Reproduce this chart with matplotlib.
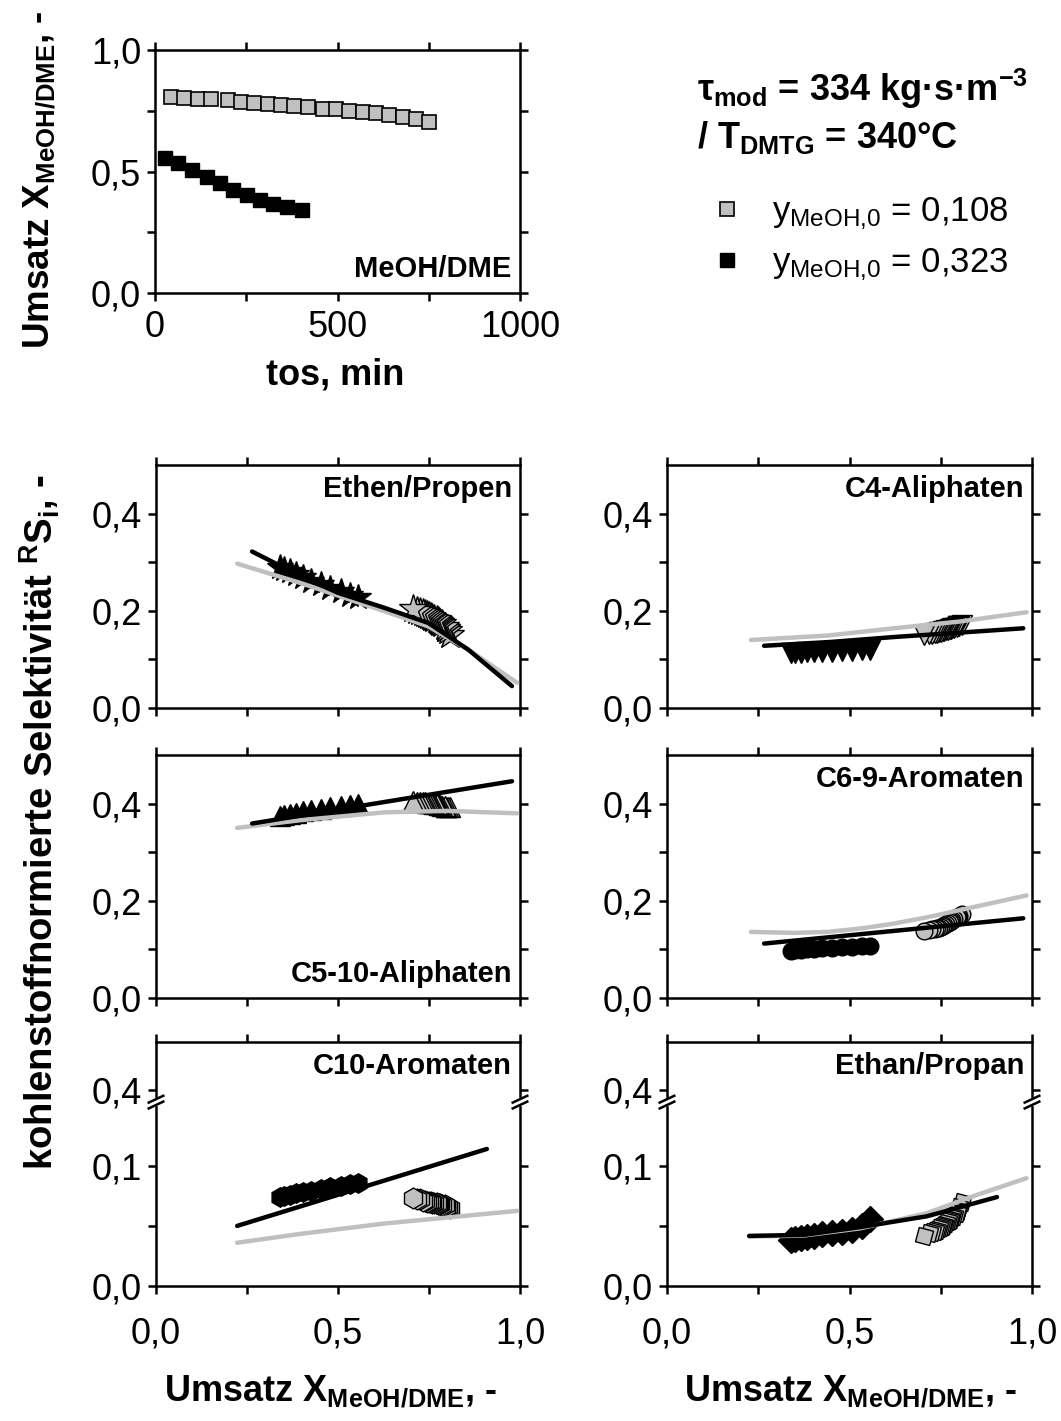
import numpy as np
import matplotlib
matplotlib.use('Agg')
import matplotlib.pyplot as plt
from matplotlib.ticker import FixedLocator, FuncFormatter

plt.rcParams['font.family'] = ['Liberation Sans', 'DejaVu Sans']
plt.rcParams['mathtext.fontset'] = 'custom'
plt.rcParams['mathtext.rm'] = 'Liberation Sans'
plt.rcParams['mathtext.bf'] = 'Liberation Sans:bold'
plt.rcParams['mathtext.it'] = 'Liberation Sans:italic'
plt.rcParams['mathtext.default'] = 'regular'

# time on stream and conversion (top panel)
tos_gray = [44, 80, 117, 153, 199, 236, 272, 309, 345, 382, 418, 459, 496, 532, 569, 606, 642, 679, 715, 752]
conv_gray = [0.808, 0.801, 0.797, 0.797, 0.795, 0.785, 0.781, 0.778, 0.774, 0.771,
             0.764, 0.759, 0.756, 0.751, 0.745, 0.740, 0.733, 0.726, 0.718, 0.705]
tos_black = [27, 64, 100, 142, 178, 215, 251, 288, 324, 361, 402]
conv_black = [0.555, 0.534, 0.507, 0.479, 0.452, 0.425, 0.404, 0.384, 0.367, 0.352, 0.340]

# selectivities (same time points as above)
sel_black = {
    'Ethen/Propen': [0.228, 0.232, 0.240, 0.247, 0.255, 0.262, 0.270, 0.276, 0.282, 0.287, 0.291],
    'C4-Aliphaten': [0.120, 0.119, 0.118, 0.117, 0.116, 0.116, 0.115, 0.115, 0.114, 0.114, 0.114],
    'C5-10-Aliphaten': [0.400, 0.398, 0.395, 0.392, 0.389, 0.386, 0.384, 0.381, 0.379, 0.377, 0.375],
    'C6-9-Aromaten': [0.107, 0.106, 0.105, 0.104, 0.103, 0.102, 0.101, 0.100, 0.099, 0.098, 0.097],
    'C10-Aromaten': [0.086, 0.085, 0.083, 0.082, 0.081, 0.079, 0.078, 0.077, 0.076, 0.075, 0.074],
    'Ethan/Propan': [0.056, 0.050, 0.047, 0.045, 0.044, 0.043, 0.042, 0.041, 0.040, 0.039, 0.038],
}
sel_gray = {
    'Ethen/Propen': [0.150, 0.158, 0.162, 0.163, 0.166, 0.172, 0.175, 0.177, 0.179, 0.181,
                     0.184, 0.186, 0.188, 0.190, 0.192, 0.194, 0.196, 0.198, 0.200, 0.203],
    'C4-Aliphaten': [0.171, 0.169, 0.168, 0.168, 0.167, 0.165, 0.164, 0.163, 0.162, 0.161,
                     0.160, 0.159, 0.158, 0.157, 0.156, 0.155, 0.154, 0.153, 0.152, 0.150],
    'C5-10-Aliphaten': [0.392, 0.393, 0.394, 0.394, 0.395, 0.396, 0.397, 0.398, 0.399, 0.399,
                        0.400, 0.401, 0.401, 0.402, 0.402, 0.403, 0.403, 0.404, 0.404, 0.405],
    'C6-9-Aromaten': [0.172, 0.169, 0.167, 0.167, 0.166, 0.162, 0.160, 0.158, 0.156, 0.155,
                      0.152, 0.150, 0.149, 0.147, 0.145, 0.144, 0.142, 0.141, 0.140, 0.138],
    'C10-Aromaten': [0.065, 0.066, 0.066, 0.066, 0.067, 0.067, 0.068, 0.068, 0.068, 0.069,
                     0.069, 0.069, 0.070, 0.070, 0.070, 0.071, 0.071, 0.072, 0.072, 0.073],
    'Ethan/Propan': [0.070, 0.066, 0.063, 0.062, 0.061, 0.058, 0.057, 0.056, 0.055, 0.054,
                     0.052, 0.051, 0.050, 0.049, 0.048, 0.047, 0.046, 0.045, 0.044, 0.042],
}

# model curves (black: y=0.323, gray: y=0.108)
fit_black = {
    'Ethen/Propen': ([0.264, 0.398, 0.50, 0.628, 0.748, 0.858, 0.978],
                     [0.322, 0.271, 0.237, 0.206, 0.175, 0.120, 0.045]),
    'C4-Aliphaten': ([0.266, 0.45, 0.621, 0.80, 0.976], [0.128, 0.136, 0.146, 0.155, 0.164]),
    'C5-10-Aliphaten': ([0.264, 0.978], [0.359, 0.446]),
    'C6-9-Aromaten': ([0.266, 0.621, 0.976], [0.112, 0.138, 0.164]),
    'C10-Aromaten': ([0.223, 0.909], [0.050, 0.114]),
    'Ethan/Propan': ([0.225, 0.375, 0.53, 0.712, 0.904], [0.0417, 0.0425, 0.049, 0.058, 0.074]),
}
fit_gray = {
    'Ethen/Propen': ([0.223, 0.398, 0.628, 0.748, 0.858, 0.992],
                     [0.297, 0.257, 0.199, 0.168, 0.120, 0.052]),
    'C4-Aliphaten': ([0.23, 0.439, 0.621, 0.803, 0.985], [0.140, 0.149, 0.164, 0.178, 0.197]),
    'C5-10-Aliphaten': ([0.223, 0.398, 0.628, 0.80, 0.992], [0.350, 0.366, 0.382, 0.385, 0.380]),
    'C6-9-Aromaten': ([0.23, 0.348, 0.439, 0.53, 0.621, 0.712, 0.803, 0.894, 0.985],
                      [0.136, 0.134, 0.136, 0.143, 0.153, 0.166, 0.181, 0.196, 0.211]),
    'C10-Aromaten': ([0.223, 0.40, 0.628, 0.992], [0.036, 0.0435, 0.052, 0.0625]),
    'Ethan/Propan': ([0.225, 0.375, 0.53, 0.712, 0.849, 0.985], [0.041, 0.042, 0.048, 0.0606, 0.0758, 0.0897]),
}

# marker black, marker gray, size black, size gray
markers = {
    'Ethen/Propen': ('*', '*', 19, 21),
    'C4-Aliphaten': ('v', 'v', 14, 15),
    'C5-10-Aliphaten': ('^', '^', 14, 15),
    'C6-9-Aromaten': ('o', 'o', 12, 12),
    'C10-Aromaten': ('h', 'h', 14, 15),
    'Ethan/Propan': ('D', (4, 0, 30), 13, 15),
}

GRAY = '#c0c0c0'
W, H = 1061, 1421
fig = plt.figure(figsize=(W / 100, H / 100), dpi=100)


def px_axes(l, t, r, b):
    return fig.add_axes([l / W, 1 - b / H, (r - l) / W, (b - t) / H])


def style(ax):
    for s in ax.spines.values():
        s.set_linewidth(1.8)
    ax.tick_params(which='both', direction='out', length=6, width=1.8,
                   top=True, right=True, labelsize=26, pad=4)


comma = FuncFormatter(lambda v, p: f"{v:.1f}".replace('.', ','))

# ---------- top panel: conversion vs tos ----------
ax0 = px_axes(155, 50, 520, 293)
style(ax0)
h1, = ax0.plot(tos_gray, conv_gray, 's', ms=10, mfc=GRAY, mec='k', mew=1.2, ls='none')
h2, = ax0.plot(tos_black, conv_black, 's', ms=10, mfc='k', mec='k', ls='none')
ax0.set_xlim(0, 1000)
ax0.set_ylim(0, 1.0)
ax0.xaxis.set_major_locator(FixedLocator([0, 500, 1000]))
ax0.xaxis.set_minor_locator(FixedLocator([250, 750]))
ax0.yaxis.set_major_locator(FixedLocator([0, 0.5, 1.0]))
ax0.yaxis.set_minor_locator(FixedLocator([0.25, 0.75]))
ax0.yaxis.set_major_formatter(comma)
ax0.tick_params(axis='x', pad=6)
ax0.text(0.975, 0.04, 'MeOH/DME', transform=ax0.transAxes, ha='right', va='bottom',
         fontsize=21, fontweight='bold')
fig.text(335 / W, 1 - 375 / H, 'tos, min', ha='center', va='center', fontsize=26, fontweight='bold')
fig.text(40 / W, 1 - 180 / H, r'Umsatz X$_{\mathbf{MeOH/DME}}$, -', rotation=90,
         ha='center', va='center', fontsize=26.5, fontweight='bold')

fig.text(697 / W, 1 - 101 / H, r'τ$_{\mathbf{mod}}$ = 334 kg·s·m$^{\mathbf{-3}}$',
         ha='left', va='baseline', fontsize=26, fontweight='bold')
fig.text(697 / W, 1 - 148 / H, r'/ T$_{\mathbf{DMTG}}$ = 340°C',
         ha='left', va='baseline', fontsize=26, fontweight='bold')

leg = ax0.legend([h1, h2], [r'y$_{MeOH{,}0}$ = 0,108', r'y$_{MeOH{,}0}$ = 0,323'],
                 loc='upper left', bbox_to_anchor=(710 / W, 1 - 195 / H),
                 bbox_transform=fig.transFigure, frameon=False, numpoints=1,
                 fontsize=25, handlelength=1.0, handletextpad=0.8, labelspacing=0.42,
                 borderaxespad=0, borderpad=0)

# ---------- selectivity panels ----------
cols = [(156, 520), (667, 1032)]
rows = [(465, 708), (755, 998), (1042, 1286)]
order = [['Ethen/Propen', 'C4-Aliphaten'],
         ['C5-10-Aliphaten', 'C6-9-Aromaten'],
         ['C10-Aromaten', 'Ethan/Propan']]

b0, b1 = 0.153, 0.39


def fwd(y):
    y = np.asarray(y, dtype=float)
    return np.where(y <= b0, y, np.where(y >= b1, y - (b1 - b0), b0))


def inv(t):
    t = np.asarray(t, dtype=float)
    return np.where(t <= b0, t, t + (b1 - b0))


for r, (top, bot) in enumerate(rows):
    for c, (left, right) in enumerate(cols):
        name = order[r][c]
        ax = px_axes(left, top, right, bot)
        style(ax)
        mk_b, mk_g, ms_b, ms_g = markers[name]
        ax.plot(conv_black, sel_black[name], ls='none', marker=mk_b, ms=ms_b,
                mfc='k', mec='k', mew=1.0, zorder=2)
        ax.plot(conv_gray, sel_gray[name], ls='none', marker=mk_g, ms=ms_g,
                mfc=GRAY, mec='k', mew=1.0, zorder=2)
        gx, gy = fit_gray[name]
        ax.plot(gx, gy, color=GRAY, lw=3.2, solid_capstyle='round', zorder=3)
        bx, by = fit_black[name]
        ax.plot(bx, by, color='k', lw=3.2, solid_capstyle='round', zorder=4)

        ax.set_xlim(0, 1.0)
        ax.xaxis.set_major_locator(FixedLocator([0, 0.5, 1.0]))
        ax.xaxis.set_minor_locator(FixedLocator([0.25, 0.75]))
        ax.xaxis.set_major_formatter(comma)
        if r < 2:
            ax.set_ylim(0, 0.5)
            ax.yaxis.set_major_locator(FixedLocator([0, 0.2, 0.4]))
            ax.yaxis.set_minor_locator(FixedLocator([0.1, 0.3]))
            ax.tick_params(axis='x', labelbottom=False)
        else:
            ax.tick_params(axis='x', pad=16)
            ax.set_yscale('function', functions=(fwd, inv))
            ax.set_ylim(0, 0.44)
            ax.yaxis.set_major_locator(FixedLocator([0, 0.1, 0.4]))
            ax.yaxis.set_minor_locator(FixedLocator([0.05]))
            yb = b0 / (b0 + 0.44 - b1)
            for xs in (0, 1):
                ax.plot([xs - 0.012, xs + 0.012], [yb, yb], transform=ax.transAxes,
                        color='white', lw=6, clip_on=False, zorder=5)
                for dy in (-0.012, 0.012):
                    ax.plot([xs - 0.02, xs + 0.02], [yb + dy - 0.014, yb + dy + 0.014],
                            transform=ax.transAxes, color='k', lw=1.8,
                            clip_on=False, zorder=6)
        ax.yaxis.set_major_formatter(comma)
        if name == 'C5-10-Aliphaten':
            ax.text(0.978, 0.04, name, transform=ax.transAxes, ha='right', va='bottom',
                    fontsize=21, fontweight='bold')
        else:
            ax.text(0.978, 0.96, name, transform=ax.transAxes, ha='right', va='top',
                    fontsize=21, fontweight='bold')

fig.text(40 / W, 1 - 822 / H, r'kohlenstoffnormierte Selektivität $\mathbf{{}^{R}S_{i}}$, -',
         rotation=90, ha='center', va='center', fontsize=27.5, fontweight='bold')
for xc in (330, 850):
    fig.text(xc / W, 1 - 1392 / H, r'Umsatz X$_{\mathbf{MeOH/DME}}$, -',
             ha='center', va='center', fontsize=26, fontweight='bold')

fig.savefig('out.png', dpi=100)
